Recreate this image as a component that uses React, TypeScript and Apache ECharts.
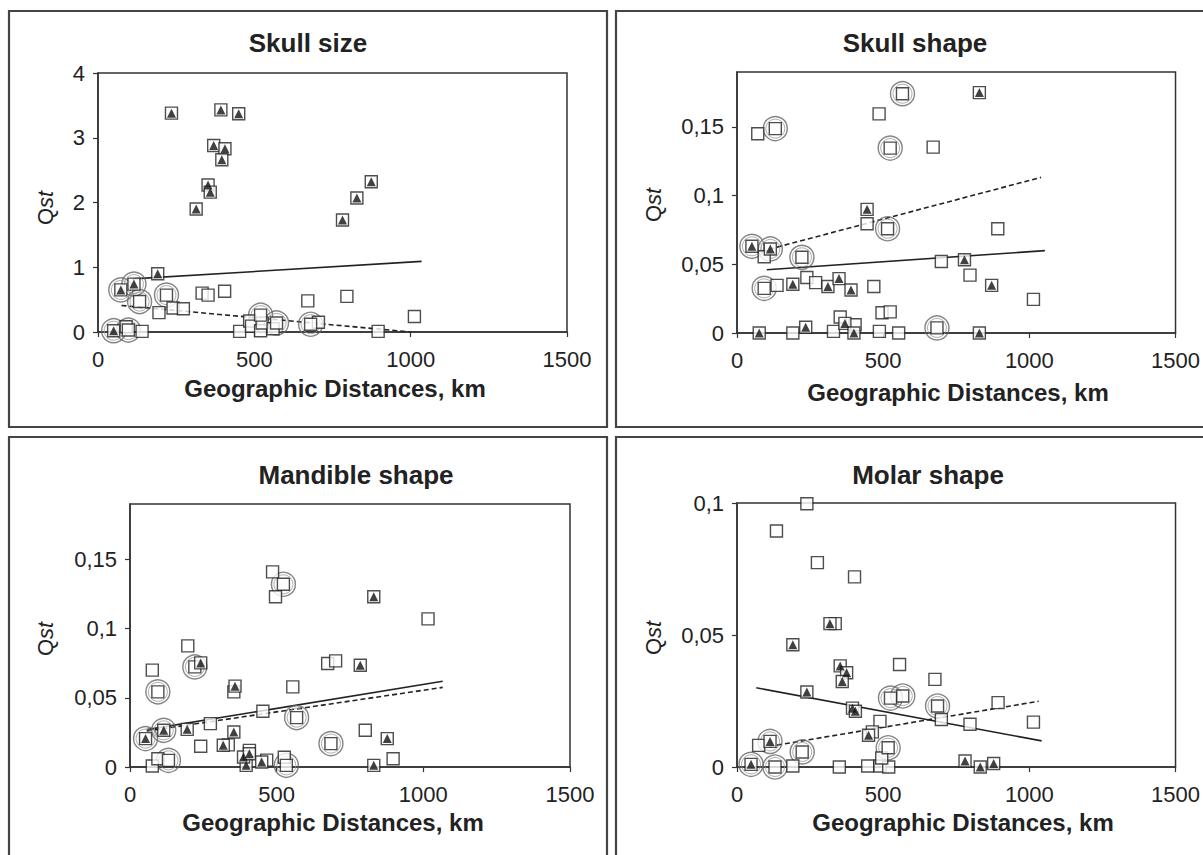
import React, { useEffect, useRef } from 'react';
import * as echarts from 'echarts';

// ---------- texts ----------
const panelTitles = ['Skull size', 'Skull shape', 'Mandible shape', 'Molar shape'];
const xAxisTitle = 'Geographic Distances, km';
const xTickInterval = 500;
const xMax = 1500;

// ---------- Skull size ----------
const skullSizeTri = [[235, 3.38], [393, 3.43], [450, 3.37], [370, 2.88], [406, 2.83], [396, 2.66], [352, 2.27], [359, 2.16], [314, 1.9], [874, 2.32], [828, 2.07], [782, 1.73], [191, 0.9]];
const skullSizeTriCircled = [[73, 0.65], [115, 0.74], [50, 0.02]];
const skullSizeOpen = [[195, 0.3], [240, 0.37], [273, 0.36], [333, 0.6], [352, 0.57], [405, 0.63], [671, 0.48], [796, 0.55], [1012, 0.24], [896, 0.01], [705, 0.15], [453, 0.01], [485, 0.17], [491, 0.09], [520, 0.02], [525, 0.14], [560, 0.05], [90, 0.08], [141, 0.01]];
const skullSizeOpenCircled = [[133, 0.47], [219, 0.57], [680, 0.12], [520, 0.26], [571, 0.14], [97, 0.03]];
const skullSizeSolid = [[110, 0.82], [1035, 1.09]];
const skullSizeDashed = [[75, 0.41], [1000, 0.0]];

// ---------- Skull shape ----------
const skullShapeTri = [[829, 0.175], [445, 0.09], [778, 0.0533], [871, 0.0347], [191, 0.0355], [311, 0.0338], [349, 0.0396], [390, 0.0313], [235, 0.0042], [76, 0], [369, 0.007], [400, 0], [829, 0]];
const skullShapeTriCircled = [[51, 0.0631], [114, 0.0612]];
const skullShapeOpen = [[71, 0.1451], [486, 0.1595], [671, 0.1353], [445, 0.0795], [892, 0.0759], [93, 0.0555], [699, 0.0521], [797, 0.0421], [1014, 0.0245], [137, 0.0347], [239, 0.0404], [269, 0.0367], [468, 0.0338], [496, 0.0147], [524, 0.0154], [353, 0.0117], [404, 0.006], [330, 0.0012], [191, 0], [487, 0.0012], [553, 0]];
const skullShapeOpenCircled = [[566, 0.1742], [131, 0.1488], [524, 0.1346], [515, 0.0759], [222, 0.0551], [93, 0.0325], [684, 0.0037]];
const skullShapeSolid = [[102, 0.046], [1053, 0.06]];
const skullShapeDashed = [[110, 0.061], [1040, 0.1133]];

// ---------- Mandible shape ----------
const mandibleTri = [[831, 0.123], [785, 0.0735], [877, 0.0205], [831, 0.0012], [241, 0.0752], [358, 0.0584], [195, 0.0272], [354, 0.0253], [318, 0.0157], [396, 0.0012], [387, 0.0072], [407, 0.0096], [449, 0.0036]];
const mandibleTriCircled = [[53, 0.0205], [115, 0.0265]];
const mandibleOpen = [[486, 0.141], [496, 0.123], [1016, 0.107], [197, 0.0875], [76, 0.07], [674, 0.0748], [701, 0.0767], [555, 0.0579], [354, 0.0543], [453, 0.0403], [274, 0.0313], [241, 0.015], [802, 0.0265], [897, 0.006], [76, 0.0007], [95, 0.006], [526, 0.007], [407, 0.012], [466, 0.005], [335, 0.016]];
const mandibleOpenCircled = [[523, 0.132], [95, 0.0543], [568, 0.0357], [685, 0.0169], [131, 0.0048], [533, 0.0012], [221, 0.0723]];
const mandibleSolid = [[57, 0.027], [1066, 0.062]];
const mandibleDashed = [[57, 0.026], [1066, 0.0575]];

// ---------- Molar shape ----------
const molarTri = [[318, 0.0543], [191, 0.0463], [239, 0.0284], [353, 0.0383], [375, 0.0357], [360, 0.0324], [395, 0.0223], [405, 0.0211], [450, 0.012], [780, 0.0023], [832, 0], [878, 0.0013]];
const molarTriCircled = [[113, 0.0097], [48, 0.001]];
const molarOpen = [[239, 0.0997], [135, 0.0894], [275, 0.0774], [402, 0.072], [556, 0.0388], [677, 0.0332], [893, 0.0244], [1014, 0.017], [797, 0.0162], [699, 0.018], [489, 0.0173], [463, 0.0133], [74, 0.0082], [191, 0.0004], [350, 0], [447, 0.0004], [489, 0.0004], [519, 0], [495, 0.0034], [336, 0.0543]];
const molarOpenCircled = [[525, 0.0261], [567, 0.0269], [686, 0.0231], [517, 0.0073], [223, 0.0057], [130, 0]];
const molarSolid = [[66, 0.03], [1042, 0.0099]];
const molarDashed = [[110, 0.0078], [1032, 0.0249]];

// y-axis scales
const yMaxes = [4, 0.19, 0.19, 0.1];
const yIntervals = [1, 0.05, 0.05, 0.05];

const panelData = [
  { tri: skullSizeTri, triC: skullSizeTriCircled, open: skullSizeOpen, openC: skullSizeOpenCircled, solid: skullSizeSolid, dashed: skullSizeDashed },
  { tri: skullShapeTri, triC: skullShapeTriCircled, open: skullShapeOpen, openC: skullShapeOpenCircled, solid: skullShapeSolid, dashed: skullShapeDashed },
  { tri: mandibleTri, triC: mandibleTriCircled, open: mandibleOpen, openC: mandibleOpenCircled, solid: mandibleSolid, dashed: mandibleDashed },
  { tri: molarTri, triC: molarTriCircled, open: molarOpen, openC: molarOpenCircled, solid: molarSolid, dashed: molarDashed },
];

// ---------- layout (pixels) ----------
const grids = [
  { left: 98, top: 73, width: 469, height: 259 },
  { left: 737, top: 72, width: 440, height: 261 },
  { left: 130, top: 504, width: 440, height: 263 },
  { left: 737, top: 503, width: 440, height: 264 },
];
const boxes = [
  { x: 9, y: 11, width: 598, height: 416 },
  { x: 616, y: 11, width: 610, height: 416 },
  { x: 9, y: 437, width: 598, height: 440 },
  { x: 616, y: 437, width: 610, height: 440 },
];
const titlePos = [[308, 43], [915, 43], [356, 475], [928, 475]];
const xNamePos = [[335, 388], [958, 392], [333, 822], [963, 822]];
const yNamePos = [[45, 208], [653, 205], [45, 639], [653, 638]];

const FONT = '"Liberation Sans", Arial, Helvetica, sans-serif';
const INK = '#222';

function fmtY(v: number) {
  const s = parseFloat(v.toFixed(3)).toString();
  return s.replace('.', ',');
}
function fmtX(v: number) {
  return String(Math.round(v));
}

export default function App() {
  const ref = useRef<HTMLDivElement>(null);
  useEffect(() => {
    if (!ref.current) return;
    const chart = echarts.init(ref.current, null, { renderer: 'svg' });

    const xAxis: any[] = [];
    const yAxis: any[] = [];
    const grid: any[] = [];
    const series: any[] = [];
    const graphic: any[] = [];

    panelData.forEach((p, i) => {
      grid.push({ ...grids[i], show: true, borderColor: '#333', borderWidth: 1.5, backgroundColor: 'transparent' });
      xAxis.push({
        type: 'value', gridIndex: i, min: 0, max: xMax, interval: xTickInterval,
        axisLine: { show: true, lineStyle: { color: '#333', width: 1.5 } },
        axisTick: { show: true, length: 5, lineStyle: { color: '#333', width: 1.2 } },
        axisLabel: { margin: 16, fontSize: 22, color: INK, fontFamily: FONT, formatter: fmtX },
        splitLine: { show: false },
      });
      yAxis.push({
        type: 'value', gridIndex: i, min: 0, max: yMaxes[i], interval: yIntervals[i],
        axisLine: { show: true, lineStyle: { color: '#333', width: 1.5 } },
        axisTick: { show: true, length: 5, lineStyle: { color: '#333', width: 1.2 } },
        axisLabel: { margin: 13, fontSize: 22, color: INK, fontFamily: FONT, showMaxLabel: i === 0 || i === 3, formatter: fmtY },
        splitLine: { show: false },
      });

      const circled = [...p.openC, ...p.triC];
      const allSquares = [...p.open, ...p.openC, ...p.tri, ...p.triC];
      const allTri = [...p.tri, ...p.triC];
      const common = { xAxisIndex: i, yAxisIndex: i, silent: true, emphasis: { disabled: true } };

      series.push({ ...common, type: 'line', data: p.solid, symbol: 'none', lineStyle: { color: '#222', width: 1.6 }, z: 2 });
      series.push({ ...common, type: 'line', data: p.dashed, symbol: 'none', lineStyle: { color: '#222', width: 1.6, type: [5, 3] }, z: 2 });
      series.push({ ...common, type: 'scatter', data: circled, symbol: 'circle', symbolSize: 24, itemStyle: { color: 'rgba(0,0,0,0)', borderColor: '#666', borderWidth: 1.4 }, z: 3 });
      series.push({ ...common, type: 'scatter', data: circled, symbol: 'circle', symbolSize: 19, itemStyle: { color: 'rgba(0,0,0,0)', borderColor: '#999', borderWidth: 1 }, z: 3 });
      series.push({ ...common, type: 'scatter', data: allSquares, symbol: 'rect', symbolSize: 12, itemStyle: { color: '#fff', borderColor: '#222', borderWidth: 1.4 }, z: 4 });
      series.push({ ...common, type: 'scatter', data: allTri, symbol: 'triangle', symbolSize: [9, 9], itemStyle: { color: '#111' }, z: 5 });

      graphic.push({ type: 'rect', shape: boxes[i], style: { fill: 'none', stroke: '#444', lineWidth: 2.2 }, silent: true });
      graphic.push({
        type: 'text', x: titlePos[i][0], y: titlePos[i][1], silent: true,
        style: { text: panelTitles[i], fill: INK, font: `bold 26px ${FONT}`, align: 'center', verticalAlign: 'middle' },
      });
      graphic.push({
        type: 'text', x: xNamePos[i][0], y: xNamePos[i][1], silent: true,
        style: { text: xAxisTitle, fill: INK, font: `bold 24px ${FONT}`, align: 'center', verticalAlign: 'middle' },
      });
      graphic.push({
        type: 'text', x: yNamePos[i][0], y: yNamePos[i][1], rotation: Math.PI / 2, silent: true,
        style: {
          text: '{q|Q}{s|st}', align: 'center', verticalAlign: 'middle', fill: INK,
          rich: {
            q: { font: `22px ${FONT}`, fill: INK },
            s: { font: `italic 22px ${FONT}`, fill: INK },
          },
        },
      });
    });

    chart.setOption({
      animation: false,
      backgroundColor: '#fff',
      grid, xAxis, yAxis, series, graphic,
    });
    return () => chart.dispose();
  }, []);
  return <div ref={ref} style={{ position: 'absolute', left: 0, top: 0, width: 1203, height: 855 }} />;
}
